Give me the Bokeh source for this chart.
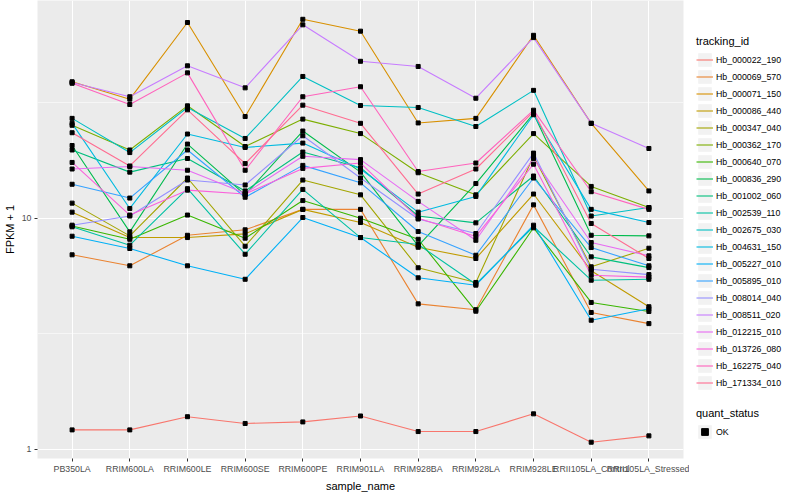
from bokeh.plotting import figure
from bokeh.layouts import row
from bokeh.models import (FactorRange, Range1d, FixedTicker, Legend, LegendItem,
                          ColumnDataSource, NumeralTickFormatter)
from bokeh.embed import file_html
from bokeh.resources import INLINE

samples = ["PB350LA", "RRIM600LA", "RRIM600LE", "RRIM600SE", "RRIM600PE", "RRIM901LA",
           "RRIM928BA", "RRIM928LA", "RRIM928LE", "RRII105LA_Control", "RRII105LA_Stressed"]

tracking_ids = ["Hb_000022_190", "Hb_000069_570", "Hb_000071_150", "Hb_000086_440",
                "Hb_000347_040", "Hb_000362_170", "Hb_000640_070", "Hb_000836_290",
                "Hb_001002_060", "Hb_002539_110", "Hb_002675_030", "Hb_004631_150",
                "Hb_005227_010", "Hb_005895_010", "Hb_008014_040", "Hb_008511_020",
                "Hb_012215_010", "Hb_013726_080", "Hb_162275_040", "Hb_171334_010"]

# FPKM + 1 per sample (order of `samples`)
hb_000022_190 = [1.21, 1.21, 1.38, 1.29, 1.31, 1.39, 1.19, 1.19, 1.42, 1.07, 1.14]
hb_000069_570 = [6.93, 6.21, 8.42, 8.89, 10.9, 10.9, 4.25, 4.01, 11.4, 3.90, 3.49]
hb_000071_150 = [38.9, 32.7, 70.2, 27.5, 72.5, 64.4, 25.8, 27.0, 61.8, 25.7, 13.1]
hb_000086_440 = [10.6, 8.23, 8.23, 8.54, 10.9, 9.56, 7.47, 6.68, 12.7, 5.91, 4.13]
hb_000347_040 = [11.6, 8.37, 14.9, 7.55, 14.6, 12.6, 6.09, 5.26, 18.5, 6.15, 7.40]
hb_000362_170 = [25.2, 19.7, 30.6, 20.4, 26.8, 23.2, 15.7, 12.6, 23.2, 13.7, 11.1]
hb_000640_070 = [9.24, 8.09, 10.3, 8.18, 11.9, 9.98, 8.09, 3.95, 9.07, 4.31, 3.94]
hb_000836_290 = [20.6, 8.71, 20.9, 12.6, 23.8, 15.8, 7.58, 14.1, 28.3, 8.42, 8.37]
hb_001002_060 = [19.7, 15.8, 18.1, 13.1, 19.3, 16.5, 10.2, 9.53, 15.2, 6.79, 6.10]
hb_002539_110 = [9.16, 7.63, 13.4, 6.97, 13.3, 8.23, 7.68, 5.17, 9.19, 5.38, 5.43]
hb_002675_030 = [27.0, 19.2, 30.1, 22.1, 41.0, 30.7, 30.1, 24.9, 35.7, 10.2, 11.1]
hb_004631_150 = [25.7, 11.0, 23.1, 20.2, 21.1, 16.3, 10.6, 12.4, 28.0, 10.9, 9.56]
hb_005227_010 = [8.34, 7.38, 6.21, 5.43, 10.05, 8.23, 5.51, 5.12, 9.31, 3.61, 4.05]
hb_005895_010 = [14.0, 12.2, 19.7, 12.3, 16.9, 14.2, 8.74, 6.90, 14.9, 7.45, 6.21]
hb_008014_040 = [9.31, 10.2, 14.6, 13.9, 22.7, 14.9, 9.90, 8.57, 19.1, 6.00, 5.69]
hb_008511_020 = [38.6, 33.5, 45.6, 36.6, 68.6, 47.7, 45.3, 33.0, 60.4, 25.7, 20.0]
hb_012215_010 = [16.3, 16.7, 16.1, 12.8, 18.5, 17.9, 11.8, 8.01, 18.1, 7.83, 6.86]
hb_013726_080 = [17.4, 10.3, 13.2, 12.7, 16.4, 17.3, 9.98, 8.32, 17.1, 5.65, 5.55]
hb_162275_040 = [38.3, 31.0, 42.5, 16.1, 33.5, 37.0, 15.9, 17.3, 29.3, 13.0, 10.9]
hb_171334_010 = [23.4, 16.8, 29.4, 17.2, 30.8, 25.7, 12.7, 16.3, 28.9, 9.47, 6.68]

series_values = [hb_000022_190, hb_000069_570, hb_000071_150, hb_000086_440, hb_000347_040,
                 hb_000362_170, hb_000640_070, hb_000836_290, hb_001002_060, hb_002539_110,
                 hb_002675_030, hb_004631_150, hb_005227_010, hb_005895_010, hb_008014_040,
                 hb_008511_020, hb_012215_010, hb_013726_080, hb_162275_040, hb_171334_010]

quant_status = ["OK"]

colors = ["#F8766D", "#EA8331", "#D89000", "#C09B00", "#A3A500", "#7CAE00", "#39B600",
          "#00BB4E", "#00BF7D", "#00C1A3", "#00BFC4", "#00BAE0", "#00B0F6", "#35A2FF",
          "#9590FF", "#C77CFF", "#E76BF3", "#FA62DB", "#FF62BC", "#FF6C91"]

FONT = "Liberation Sans"

p = figure(x_range=FactorRange(factors=samples, range_padding=0.2 / 11),
           y_range=Range1d(0.9097, 87.43), y_axis_type="log",
           frame_width=646, frame_height=458,
           min_border_top=0, min_border_left=0, min_border_bottom=0, min_border_right=6,
           output_backend="svg", toolbar_location=None)

p.background_fill_color = "#EBEBEB"
p.border_fill_color = "white"
p.outline_line_color = None

p.xgrid.grid_line_color = "white"
p.xgrid.grid_line_width = 1.1
p.ygrid.grid_line_color = "white"
p.ygrid.grid_line_width = 1.1
p.ygrid.minor_grid_line_color = "white"
p.ygrid.minor_grid_line_width = 0.55

p.yaxis.ticker = FixedTicker(ticks=[1, 10, 100], minor_ticks=[10 ** -0.5, 10 ** 0.5, 10 ** 1.5])
p.yaxis.formatter = NumeralTickFormatter(format="0")
p.yaxis.major_label_overrides = {1: "1", 10: "10", 100: "100"}

for ax in p.axis:
    ax.axis_line_color = None
    ax.major_tick_line_color = "#333333"
    ax.major_tick_in = 0
    ax.major_tick_out = 3
    ax.minor_tick_line_color = None
    ax.major_label_text_font = FONT
    ax.major_label_text_font_size = "8.8px"
    ax.major_label_text_color = "#4D4D4D"
    ax.major_label_standoff = 2
    ax.axis_label_text_font = FONT
    ax.axis_label_text_font_size = "11px"
    ax.axis_label_text_font_style = "normal"
    ax.axis_label_text_color = "black"
    ax.axis_label_standoff = 3

p.xaxis.axis_label = "sample_name"
p.yaxis.axis_label = "FPKM + 1"

for tid, vals, col in zip(tracking_ids, series_values, colors):
    p.line(x=samples, y=vals, line_color=col, line_width=1.1)

px, py = [], []
for vals in series_values:
    px.extend(samples)
    py.extend(vals)
p.scatter(x="x", y="y", source=ColumnDataSource(dict(x=px, y=py)),
          marker="square", size=4, fill_color="black", line_color="black")

# ---- legend panel (separate, axis-less figure holding the two guides) ----
LEG_H = 484
q = figure(width=104, height=LEG_H, x_range=Range1d(0, 1), y_range=Range1d(0, 1),
           min_border_top=0, min_border_left=0, min_border_bottom=0, min_border_right=0,
           output_backend="svg", toolbar_location=None)
q.axis.visible = False
q.grid.visible = False
q.outline_line_color = None
q.background_fill_color = "white"
q.border_fill_color = "white"

# key glyph renderers for the guides; their marks sit outside the visible range
key_bg = q.quad(left=[5], right=[6], top=[6], bottom=[5], fill_color="#F2F2F2", line_color=None)
key_lines = [q.line(x=[5, 6], y=[5, 6], line_color=col, line_width=1.1) for col in colors]
key_pt = q.scatter(x=[5], y=[5], marker="square", size=4, fill_color="black", line_color="black")


def style_legend(lg):
    lg.glyph_width = 17
    lg.glyph_height = 17
    lg.label_height = 17
    lg.label_standoff = 3
    lg.spacing = 0
    lg.padding = 0
    lg.margin = 0
    lg.border_line_color = None
    lg.background_fill_alpha = 0
    lg.title_standoff = 4
    lg.label_text_font = FONT
    lg.label_text_font_size = "8.8px"
    lg.label_text_color = "black"
    lg.title_text_font = FONT
    lg.title_text_font_size = "11px"
    lg.title_text_font_style = "normal"
    lg.title_text_color = "black"


legend1 = Legend(items=[LegendItem(label=tid, renderers=[key_bg, r])
                        for tid, r in zip(tracking_ids, key_lines)],
                 title="tracking_id", location=(7, LEG_H - 427))
style_legend(legend1)
q.add_layout(legend1)

legend2 = Legend(items=[LegendItem(label=quant_status[0], renderers=[key_bg, key_pt])],
                 title="quant_status", location=(7, LEG_H - 476))
style_legend(legend2)
q.add_layout(legend2)

layout = row(p, q)
open("out.html", "w").write(file_html(layout, INLINE))
